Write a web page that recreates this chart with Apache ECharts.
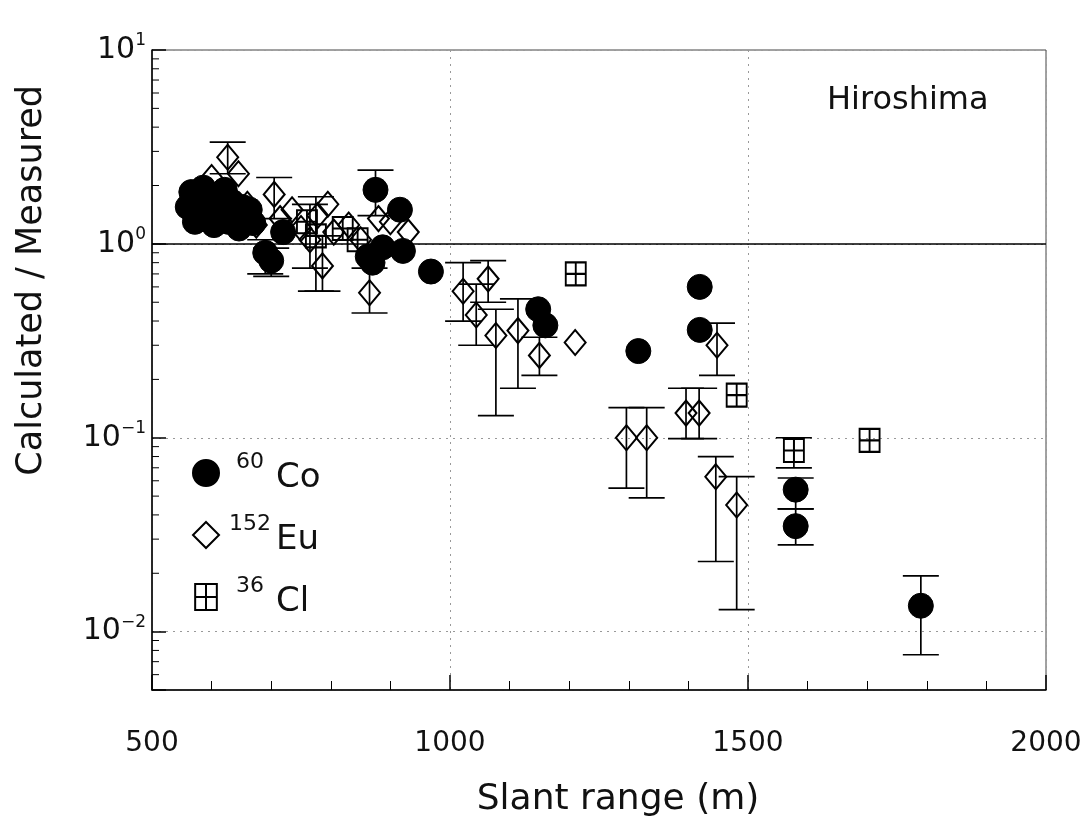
<!DOCTYPE html>
<html>
<head>
<meta charset="utf-8">
<script src="https://cdn.jsdelivr.net/npm/echarts@6/dist/echarts.min.js"></script>
<style>
html,body{margin:0;padding:0;background:#fff;}
#chart{width:1087px;height:816px;}
</style>
</head>
<body>
<div id="chart"></div>
<script>
// ---- data (x: slant range m, y: calculated/measured) ----
const coData = [
  [560,1.55],[566,1.85],[572,1.3],[580,1.7],[586,1.95],[592,1.4],[598,1.6],[604,1.25],
  [610,1.8],[616,1.5],[622,1.9],[628,1.3],[634,1.65],[640,1.45],[646,1.2],[652,1.55],
  [658,1.35],[664,1.5],[670,1.28],[690,0.9],[700,0.82],[720,1.15],
  [862,0.86],[870,0.8],[875,1.9],[887,0.96],[916,1.5],[921,0.92],[968,0.72],
  [1148,0.46],[1160,0.38],[1316,0.28],[1419,0.60],[1419,0.36],
  [1580,0.054],[1580,0.035],[1790,0.0136]
];
const euData = [
  [585,1.9],[600,2.2],[615,1.5],[627,2.8],[645,2.3],[660,1.6],[675,1.25],[705,1.8],
  [715,1.35],[735,1.5],[750,1.2],[765,1.05],[778,1.4],[786,0.77],[795,1.6],[805,1.15],
  [830,1.25],[850,1.05],[865,0.56],[880,1.35],[900,1.3],[930,1.15],
  [1022,0.57],[1044,0.43],[1064,0.66],[1077,0.337],[1114,0.357],[1150,0.266],[1210,0.31],
  [1296,0.1],[1330,0.1],[1396,0.134],[1418,0.134],[1448,0.30],[1446,0.063],[1481,0.045]
];
const clData = [
  [600,1.45],[650,1.3],[760,1.3],[775,1.1],[820,1.2],[845,1.05],
  [1211,0.70],[1481,0.166],[1577,0.086],[1704,0.097]
];
// error bars: [x, low, high]
const coErr = [
  [690,0.70,1.05],[700,0.68,0.95],[875,1.4,2.4],[1580,0.043,0.062],[1580,0.028,0.043],
  [1790,0.0076,0.0194]
];
const euErr = [
  [627,2.3,3.35],[705,1.35,2.2],[765,0.75,1.6],[786,0.57,1.1],[865,0.44,0.75],
  [1022,0.40,0.80],[1044,0.30,0.62],[1064,0.50,0.82],[1077,0.13,0.46],[1114,0.18,0.52],
  [1150,0.21,0.33],[1296,0.055,0.143],[1330,0.049,0.143],[1396,0.099,0.18],[1418,0.099,0.18],
  [1448,0.21,0.39],[1446,0.023,0.08],[1481,0.013,0.063]
];
const clErr = [
  [775,0.57,1.75],[1577,0.07,0.1]
];
const xTicks = [500,1000,1500,2000];
const yMinorTicks = [0.006,0.007,0.008,0.009,0.02,0.03,0.04,0.05,0.06,0.07,0.08,0.09,
  0.2,0.3,0.4,0.5,0.6,0.7,0.8,0.9,2,3,4,5,6,7,8,9];
const seriesNames = ['Co','Eu','Cl'];
const isotopeMass = {Co:'60', Eu:'152', Cl:'36'};

const FONT = 'DejaVu Sans';
const clSymbol = 'path://M0,0H20V24H0Z M10,0V24 M0,12H20';

function errSeries(data){
  return {
    type:'custom', data:data, z:1, silent:true,
    encode:{x:0,y:[1,2]},
    renderItem:function(params, api){
      const x = api.value(0);
      const pLo = api.coord([x, api.value(1)]);
      const pHi = api.coord([x, api.value(2)]);
      const w = 18;
      const st = {stroke:'#000', lineWidth:1.7};
      return {type:'group', children:[
        {type:'line', shape:{x1:pLo[0],y1:pLo[1],x2:pHi[0],y2:pHi[1]}, style:st},
        {type:'line', shape:{x1:pLo[0]-w,y1:pLo[1],x2:pLo[0]+w,y2:pLo[1]}, style:st},
        {type:'line', shape:{x1:pHi[0]-w,y1:pHi[1],x2:pHi[0]+w,y2:pHi[1]}, style:st}
      ]};
    }
  };
}

const chart = echarts.init(document.getElementById('chart'), null, {renderer:'canvas'});
const option = {
  backgroundColor:'#fff',
  animation:false,
  title:{text:'Hiroshima', left:822, top:80,
    textStyle:{fontFamily:FONT, fontSize:32, fontWeight:'normal', color:'#111'}},
  grid:{left:152, right:41, top:50, bottom:126, containLabel:false, outerBoundsMode:'none',
    show:true, borderColor:'#444', borderWidth:1},
  legend:{
    orient:'vertical', left:187, top:446, itemGap:18, itemWidth:26, itemHeight:26,
    data:seriesNames,
    formatter:function(n){ return '{s|'+isotopeMass[n]+'}{b|'+n+'}'; },
    textStyle:{fontFamily:FONT, color:'#111',
      rich:{
        s:{fontFamily:FONT, fontSize:22, width:52, align:'right', verticalAlign:'top', lineHeight:24, color:'#111'},
        b:{fontFamily:FONT, fontSize:34, lineHeight:44, verticalAlign:'bottom', color:'#111'}
      }}
  },
  xAxis:{
    type:'value', min:xTicks[0], max:xTicks[xTicks.length-1], interval:500,
    name:'Slant range (m)', nameLocation:'middle', nameGap:92,
    nameTextStyle:{fontFamily:FONT, fontSize:36, color:'#111', padding:[0,0,0,38]},
    axisLine:{show:true, onZero:false, lineStyle:{color:'#000', width:1.5}},
    axisTick:{show:true, inside:true, length:15, lineStyle:{color:'#000', width:1.5}},
    minorTick:{show:true, splitNumber:5, length:9, lineStyle:{color:'#000', width:1}},
    axisLabel:{fontFamily:FONT, fontSize:28, color:'#111', margin:40,
      formatter:function(v){ return String(v); }},
    splitLine:{show:true, lineStyle:{color:'#999', type:[2,5], width:1}}
  },
  yAxis:{
    type:'log', logBase:10, min:0.005, max:10,
    axisLine:{show:true, lineStyle:{color:'#000', width:1.5}},
    axisTick:{show:true, inside:true, length:14, lineStyle:{color:'#000', width:1.5}},
    axisLabel:{
      margin:6,
      formatter:function(v){
        const e = Math.log10(v); const r = Math.round(e);
        if (Math.abs(e-r) > 1e-6) return '';
        const t = r < 0 ? '\u2212' + (-r) : String(r);
        return '{b|10}{s|' + t + '}';
      },
      rich:{
        b:{fontFamily:FONT, fontSize:30, lineHeight:36, color:'#111'},
        s:{fontFamily:FONT, fontSize:17, lineHeight:18, verticalAlign:'top', color:'#111'}
      }
    },
    splitLine:{show:true, lineStyle:{color:'#999', type:[2,5], width:1}}
  },
  graphic:[{
    type:'text', left:14, top:85, rotation:Math.PI/2,
    style:{text:'Calculated / Measured', fontFamily:FONT, fontSize:35, fill:'#111'}
  }],
  series:[
    {type:'custom', silent:true, z:2, data:yMinorTicks.map(function(v){return [xTicks[0], v];}),
      encode:{x:0,y:1},
      renderItem:function(params, api){
        const p = api.coord([api.value(0), api.value(1)]);
        return {type:'line', shape:{x1:p[0], y1:p[1], x2:p[0]+7, y2:p[1]},
          style:{stroke:'#000', lineWidth:1}};
      }},
    errSeries(coErr), errSeries(euErr), errSeries(clErr),
    {name:'Eu', type:'scatter', data:euData, z:3, symbol:'diamond', symbolSize:[21,25],
      itemStyle:{color:'rgba(255,255,255,0)', borderColor:'#000', borderWidth:2, opacity:1},
      markLine:{silent:true, symbol:'none', label:{show:false},
        lineStyle:{color:'#000', type:'solid', width:1.5},
        data:[{yAxis:1}]}},
    {name:'Cl', type:'scatter', data:clData, z:3, symbol:clSymbol, symbolSize:[20,23],
      itemStyle:{color:'rgba(255,255,255,0)', borderColor:'#000', borderWidth:2, opacity:1}},
    {name:'Co', type:'scatter', data:coData, z:4, symbol:'circle', symbolSize:25,
      itemStyle:{color:'#000', borderColor:'#000', borderWidth:1, opacity:1}}
  ]
};
chart.setOption(option);
</script>
</body>
</html>
